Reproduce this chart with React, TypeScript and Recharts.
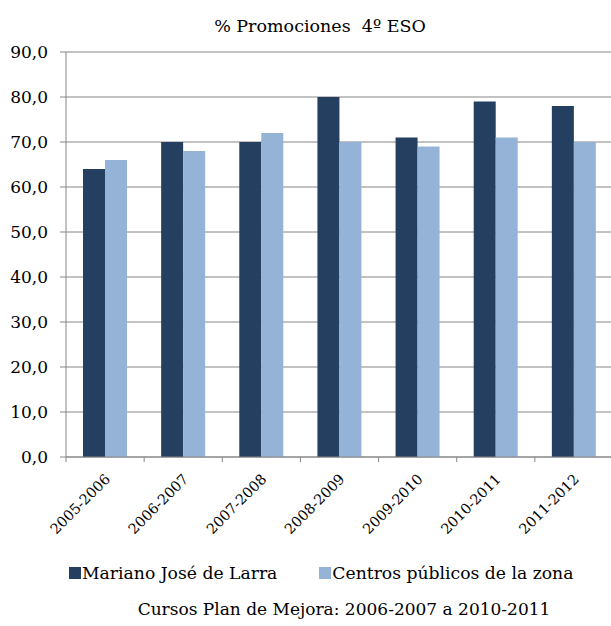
import React from 'react';
import { BarChart, Bar, XAxis, YAxis, CartesianGrid, Legend } from 'recharts';

const categories = ['2005-2006', '2006-2007', '2007-2008', '2008-2009', '2009-2010', '2010-2011', '2011-2012'];
const larra = [64, 70, 70, 80, 71, 79, 78];
const centros = [66, 68, 72, 70, 69, 71, 70];
const yTicks = [0, 10, 20, 30, 40, 50, 60, 70, 80, 90];
const seriesNames = ['Mariano José de Larra', 'Centros públicos de la zona'];
const title = '% Promociones  4º ESO';
const subtitle = 'Cursos Plan de Mejora: 2006-2007 a 2010-2011';

const DARK = '#243F60';
const LIGHT = '#95B3D7';
const seriesColors = [DARK, LIGHT];
const AXIS = '#868686';
const FONT = '"DejaVu Serif", serif';

const data = categories.map((c, i) => ({ name: c, larra: larra[i], centros: centros[i] }));

const XTick = (props: any) => {
  const { x, y, payload } = props;
  const half = payload && payload.offset ? payload.offset : 0;
  const tx = x + 6;
  const ty = y + 23;
  return (
    <g>
      <line x1={x - half} x2={x - half} y1={y} y2={y + 5} stroke={AXIS} strokeWidth={1} />
      <text
        x={tx}
        y={ty}
        textAnchor="end"
        transform={`rotate(-45, ${tx}, ${ty})`}
        fontFamily={FONT}
        fontSize={14.3}
        fill="#000"
      >
        {payload.value}
      </text>
    </g>
  );
};

const LegendContent = () => {
  return (
    <div style={{ display: 'flex', alignItems: 'baseline', fontFamily: FONT, fontSize: 17.2, lineHeight: 1, color: '#000', whiteSpace: 'nowrap' }}>
      {seriesNames.map((name, i) => (
        <span key={i} style={{ display: 'inline-flex', alignItems: 'baseline', marginRight: i === 0 ? 42 : 0 }}>
          <span style={{ display: 'inline-block', width: 12, height: 12, background: seriesColors[i], marginRight: 1 }} />
          <span>{name}</span>
        </span>
      ))}
    </div>
  );
};

export default function App() {
  return (
    <div style={{ position: 'absolute', left: 0, top: 0, width: 611, height: 626, background: '#fff', overflow: 'hidden' }}>
      <div style={{ position: 'absolute', left: 0, width: 640, top: 18, textAlign: 'center', fontFamily: FONT, fontSize: 17.5, lineHeight: 1, whiteSpace: 'pre', color: '#000' }}>
        {title}
      </div>
      <BarChart
        width={613}
        height={626}
        data={data}
        margin={{ top: 52, right: 0, left: 0, bottom: 0 }}
        barGap={0}
        style={{ fontFamily: FONT }}
      >
        <CartesianGrid vertical={false} stroke={AXIS} strokeWidth={1} />
        <XAxis
          dataKey="name"
          height={169}
          interval={0}
          tickLine={false}
          tickSize={0}
          tickMargin={0}
          axisLine={{ stroke: AXIS, strokeWidth: 1 }}
          tick={<XTick />}
        />
        <YAxis
          width={66}
          domain={[0, 90]}
          ticks={yTicks}
          interval={0}
          tickSize={6}
          tickMargin={12}
          tickLine={{ stroke: AXIS }}
          axisLine={{ stroke: AXIS, strokeWidth: 1 }}
          tick={{ fill: '#000', fontSize: 17, fontFamily: FONT }}
          tickFormatter={(v: number) => v.toFixed(1).replace('.', ',')}
        />
        <Legend
          layout="horizontal"
          verticalAlign="middle"
          align="center"
          content={<LegendContent />}
          wrapperStyle={{ position: 'absolute', left: 69, top: 565, width: 540 }}
        />
        <Bar dataKey="larra" name={seriesNames[0]} fill={DARK} barSize={22} isAnimationActive={false} />
        <Bar dataKey="centros" name={seriesNames[1]} fill={LIGHT} barSize={22} isAnimationActive={false} />
      </BarChart>
      <div style={{ position: 'absolute', left: 0, width: 688, top: 601, textAlign: 'center', fontFamily: FONT, fontSize: 17, lineHeight: 1, whiteSpace: 'pre', color: '#000' }}>
        {subtitle}
      </div>
    </div>
  );
}
